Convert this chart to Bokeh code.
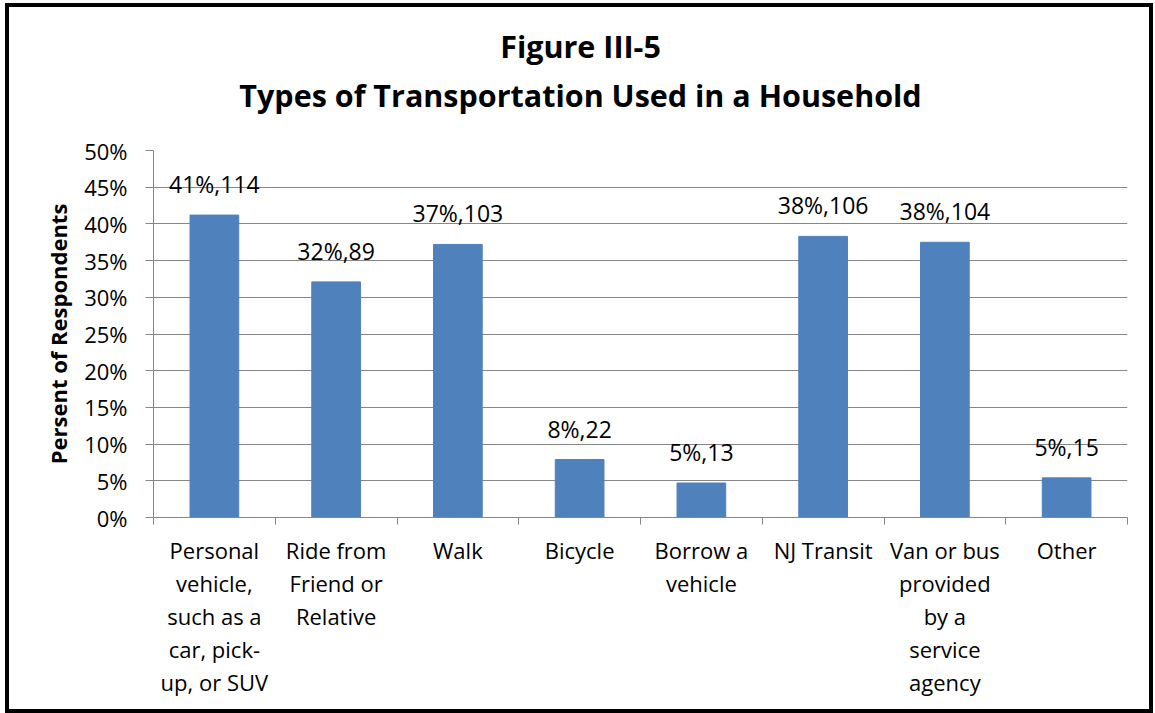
from bokeh.plotting import figure
from bokeh.layouts import column
from bokeh.models import Range1d, FixedTicker, PrintfTickFormatter, ColumnDataSource
from bokeh.core.properties import value
from bokeh.embed import file_html
from bokeh.resources import INLINE

categories = [
    "Personal\nvehicle,\nsuch as a\ncar, pick-\nup, or SUV",
    "Ride from\nFriend or\nRelative",
    "Walk",
    "Bicycle",
    "Borrow a\nvehicle",
    "NJ Transit",
    "Van or bus\nprovided\nby a\nservice\nagency",
    "Other",
]
percents = [41.2, 32.1, 37.2, 7.9, 4.7, 38.3, 37.5, 5.4]
counts = [114, 89, 103, 22, 13, 106, 104, 15]
pct_text = ["41%", "32%", "37%", "8%", "5%", "38%", "38%", "5%"]
y_ticks = [0, 5, 10, 15, 20, 25, 30, 35, 40, 45, 50]
title_lines = ["Figure III-5", "Types of Transportation Used in a Household"]
y_title = "Persent of Respondents"

FONT = "Open Sans"
GRAY = "#868686"
BLUE = "#4F81BD"
W = 1140
TH = 123
MH = 579

positions = [i + 1 for i in range(len(categories))]
boundaries = [i + 0.5 for i in range(len(categories) + 1)]
labels = [f"{t},{c}" for t, c in zip(pct_text, counts)]

# ---- title strip ----
tp = figure(width=W, height=TH, output_backend="svg", toolbar_location=None,
            x_range=Range1d(0, 1), y_range=Range1d(0, 1),
            x_axis_location=None, y_axis_location=None, min_border=0)
tp.outline_line_color = None
tp.xgrid.visible = False
tp.ygrid.visible = False
tp.title.visible = False
tsrc = ColumnDataSource(dict(x=[0.5, 0.5], y=[1, 1], text=title_lines, off=[38, 87]))
tp.text(x="x", y="y", text="text", x_offset=-60, y_offset="off", source=tsrc,
        text_align="center", text_baseline="middle",
        text_font=value(FONT), text_font_size="30.5px", text_font_style="bold",
        text_color="black")

# ---- main chart ----
src = ColumnDataSource(dict(x=positions, top=percents, label=labels))
p = figure(width=W, height=MH, output_backend="svg", toolbar_location=None,
           x_range=Range1d(0.5, 8.5), y_range=Range1d(0, 50),
           min_border_left=144, min_border_right=22, min_border_top=20, min_border_bottom=192)
p.title.visible = False
p.outline_line_color = None
p.background_fill_color = "white"
p.border_fill_color = "white"

p.vbar(x="x", top="top", width=0.4, source=src, fill_color=BLUE, line_color=BLUE)
p.text(x="x", y="top", text="label", source=src, y_offset=-15,
       text_align="center", text_baseline="bottom",
       text_font=value(FONT), text_font_size="23px", text_color="black")

# y axis
p.yaxis.ticker = FixedTicker(ticks=y_ticks, minor_ticks=[])
p.yaxis.formatter = PrintfTickFormatter(format="%d%%")
p.yaxis.axis_line_color = GRAY
p.yaxis.major_tick_line_color = GRAY
p.yaxis.major_tick_out = 8
p.yaxis.major_tick_in = 0
p.yaxis.minor_tick_line_color = None
p.yaxis.major_label_standoff = 18
p.yaxis.major_label_text_font = FONT
p.yaxis.major_label_text_font_size = "22px"
p.yaxis.major_label_text_color = "black"
p.yaxis.axis_label = y_title
p.yaxis.axis_label_text_font = FONT
p.yaxis.axis_label_text_font_size = "22px"
p.yaxis.axis_label_text_font_style = "bold"
p.yaxis.axis_label_text_color = "black"
p.yaxis.axis_label_standoff = 8

# x axis
p.xaxis.ticker = FixedTicker(ticks=positions, minor_ticks=boundaries)
p.xaxis.major_label_overrides = {pos: cat for pos, cat in zip(positions, categories)}
p.xaxis.axis_line_color = GRAY
p.xaxis.major_tick_line_color = None
p.xaxis.major_tick_out = 0
p.xaxis.major_tick_in = 0
p.xaxis.minor_tick_line_color = GRAY
p.xaxis.minor_tick_out = 7
p.xaxis.minor_tick_in = 0
p.xaxis.major_label_standoff = 10
p.xaxis.major_label_text_font = FONT
p.xaxis.major_label_text_font_size = "22px"
p.xaxis.major_label_text_color = "black"
p.xaxis.major_label_text_line_height = 1.1
p.xaxis.major_label_text_align = "center"

p.xgrid.visible = False
p.ygrid.ticker = FixedTicker(ticks=y_ticks, minor_ticks=[])
p.ygrid.grid_line_color = GRAY

layout = column(tp, p, spacing=0)
layout.styles = {"outline": "4px solid black", "margin-left": "9px", "margin-top": "7px"}

open("out.html", "w").write(file_html(layout, INLINE))
